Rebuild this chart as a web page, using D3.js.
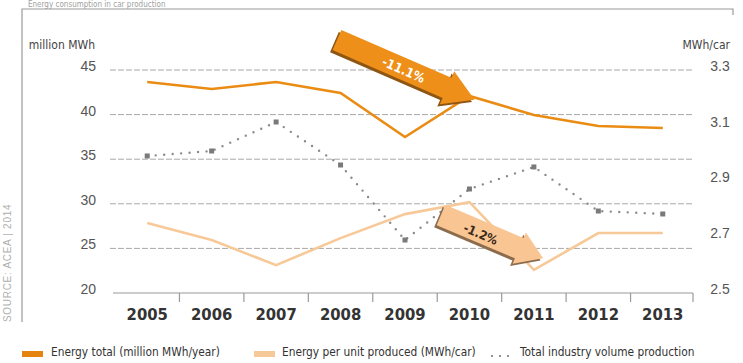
<!DOCTYPE html>
<html>
<head>
<meta charset="utf-8">
<script src="https://cdn.jsdelivr.net/npm/d3@7"></script>
<style>
  html, body { margin: 0; padding: 0; background: #fff; }
  svg { display: block; }
  .narrow { font-family: "Liberation Sans Narrow", "Arial Narrow", "DejaVu Sans Condensed", sans-serif; }
</style>
</head>
<body>
<svg id="chart" width="743" height="363"></svg>
<script>
// Years on the x axis
const years = ["2005", "2006", "2007", "2008", "2009", "2010", "2011", "2012", "2013"];
// Energy total, million MWh per year (left axis)
const energyTotal = [43.65, 42.87, 43.65, 42.42, 37.49, 42.09, 39.96, 38.72, 38.50];
// Energy per unit produced, MWh per car (right axis)
const energyPerUnit = [2.751, 2.690, 2.600, 2.697, 2.783, 2.826, 2.583, 2.715, 2.715];
// Total industry volume production, drawn against the left scale
const volumeProduction = [35.36, 35.92, 39.17, 34.35, 25.94, 31.66, 34.13, 29.19, 28.86];
// Axis ticks
const leftTicks = [20, 25, 30, 35, 40, 45];
const rightTicks = [2.5, 2.7, 2.9, 3.1, 3.3];
// Change annotations
const changeLabels = ["-11.1%", "-1.2%"];
const legendLabels = ["Energy total (million MWh/year)", "Energy per unit produced (MWh/car)", "Total industry volume production"];

const C_DARK = "#EA8C14";
const C_LIGHT = "#F8C998";
const C_DOTS = "#8a8a8a";

const svg = d3.select("#chart");

const x = d3.scaleBand().domain(years).range([115, 695]);
const yL = d3.scaleLinear().domain([20, 45]).range([293, 70]);
const yR = d3.scaleLinear().domain([2.5, 3.3]).range([293, 70]);
const cx = d => x(d) + x.bandwidth() / 2;

// Heading above the frame
svg.append("text").attr("x", 28).attr("y", 7)
  .attr("class", "narrow").attr("font-size", 8)
  .attr("fill", "#a0a0a0").text("Energy consumption in car production");

// Frame lines
svg.append("path").attr("d", "M22,322 V9 H733 V15")
  .attr("fill", "none").attr("stroke", "#9a9a9a").attr("stroke-width", 1.2);

// Source note
svg.append("text").attr("transform", "translate(11,322) rotate(-90)")
  .attr("font-family", "Liberation Sans, Arial, sans-serif").attr("font-size", 10)
  .attr("letter-spacing", 0.7).attr("fill", "#b0b0b0").text("SOURCE: ACEA | 2014");

// Dashed gridlines
svg.append("g").selectAll("line").data(leftTicks.filter(t => t > 20)).join("line")
  .attr("x1", 110).attr("x2", 693)
  .attr("y1", d => yL(d)).attr("y2", d => yL(d))
  .attr("stroke", "#a8a8a8").attr("stroke-width", 1).attr("stroke-dasharray", "6,2");

// Bottom axis with ticks at band boundaries
const xAxis = d3.axisBottom(x).tickSize(0).tickPadding(15);
const gx = svg.append("g").attr("transform", "translate(0,293)").call(xAxis);
gx.select(".domain").remove();
gx.selectAll("text").attr("class", "narrow").attr("font-size", 16.5).attr("font-weight", "bold")
  .attr("fill", "#333").attr("font-family", null);
svg.append("line").attr("x1", 113).attr("x2", 693).attr("y1", 293).attr("y2", 293)
  .attr("stroke", "#9a9a9a").attr("stroke-width", 1.2);
svg.append("g").selectAll("line").data(years.slice(1).concat(["end"])).join("line")
  .attr("x1", d => d === "end" ? 693 : x(d)).attr("x2", d => d === "end" ? 693 : x(d))
  .attr("y1", 293).attr("y2", 302).attr("stroke", "#9a9a9a").attr("stroke-width", 1.2);

// Left axis labels
const gl = svg.append("g").attr("transform", "translate(96,-4)")
  .call(d3.axisLeft(yL).tickValues(leftTicks).tickSize(0).tickPadding(0));
gl.select(".domain").remove();
gl.selectAll("text").attr("font-family", "Liberation Sans, Arial, sans-serif")
  .attr("font-size", 14).attr("fill", "#555");
svg.append("text").attr("x", 95).attr("y", 49).attr("text-anchor", "end")
  .attr("class", "narrow").attr("font-size", 12)
  .attr("fill", "#444").text("million MWh");

// Right axis labels
const gr = svg.append("g").attr("transform", "translate(720,-4)")
  .call(d3.axisRight(yR).tickValues(rightTicks).tickFormat(d3.format(".1f")).tickSize(0).tickPadding(0));
gr.select(".domain").remove();
gr.selectAll("text").attr("text-anchor", "middle").attr("font-family", "Liberation Sans, Arial, sans-serif")
  .attr("font-size", 14).attr("fill", "#555");
svg.append("text").attr("x", 730).attr("y", 49).attr("text-anchor", "end")
  .attr("class", "narrow").attr("font-size", 12)
  .attr("fill", "#444").text("MWh/car");

// Volume production: dotted line with square markers
const lineVol = d3.line().x((d, i) => cx(years[i])).y(d => yL(d));
svg.append("path").datum(volumeProduction).attr("d", lineVol)
  .attr("fill", "none").attr("stroke", C_DOTS).attr("stroke-width", 2.4)
  .attr("stroke-linecap", "round").attr("stroke-dasharray", "0,8.5");
svg.append("g").selectAll("rect").data(volumeProduction).join("rect")
  .attr("x", (d, i) => cx(years[i]) - 2.5).attr("y", d => yL(d) - 2.5)
  .attr("width", 5).attr("height", 5).attr("fill", "#7a7a7a");

// Energy per unit line
const lineR = d3.line().x((d, i) => cx(years[i])).y(d => yR(d));
svg.append("path").datum(energyPerUnit).attr("d", lineR)
  .attr("fill", "none").attr("stroke", C_LIGHT).attr("stroke-width", 2.6);

// Energy total line
const lineL = d3.line().x((d, i) => cx(years[i])).y(d => yL(d));
svg.append("path").datum(energyTotal).attr("d", lineL)
  .attr("fill", "none").attr("stroke", C_DARK).attr("stroke-width", 2.6);

// Change arrows
function arrow(tx, ty, angle, len, shaft, head, headLen, fill, shadow, label, labelFill, labelPos, fs) {
  const g = svg.append("g").attr("transform", `translate(${tx},${ty}) rotate(${angle})`);
  const b = len - headLen;
  const pts = [[0, -shaft], [b, -shaft], [b, -head], [len, 0], [b, head], [b, shaft], [0, shaft]];
  const p = "M" + pts.map(q => q.join(",")).join("L") + "Z";
  g.append("path").attr("d", p).attr("fill", shadow).attr("transform", "translate(-1.5,3)");
  g.append("path").attr("d", p).attr("fill", fill);
  g.append("text").attr("x", labelPos[0]).attr("y", labelPos[1]).attr("class", "narrow")
    .attr("text-anchor", "middle").attr("dominant-baseline", "central")
    .attr("font-size", fs).attr("font-weight", "bold")
    .attr("fill", labelFill).text(label);
}
arrow(337, 40, 23.5, 150, 11, 18, 30, "#EE8F1A", "#8e5612", changeLabels[0], "#fff", [73, 1], 13);
arrow(441, 215, 23, 111, 11, 17, 26, "#F9C592", "#8c6c4c", changeLabels[1], "#3a2a1a", [44, 2], 12.5);

// Legend
const lg = svg.append("g");
lg.append("rect").attr("x", 22).attr("y", 351).attr("width", 21).attr("height", 6).attr("fill", "#E5850F");
lg.append("rect").attr("x", 254).attr("y", 351).attr("width", 21).attr("height", 6).attr("fill", C_LIGHT);
lg.selectAll("circle").data([0, 1, 2]).join("circle")
  .attr("cx", d => 492 + d * 8).attr("cy", 356).attr("r", 1.1).attr("fill", "#777");
lg.selectAll("text").data(legendLabels).join("text")
  .attr("class", "narrow")
  .attr("x", (d, i) => [51, 282, 520][i]).attr("y", 356)
  .attr("font-size", 11.8).attr("fill", "#333").text(d => d);
</script>
</body>
</html>
